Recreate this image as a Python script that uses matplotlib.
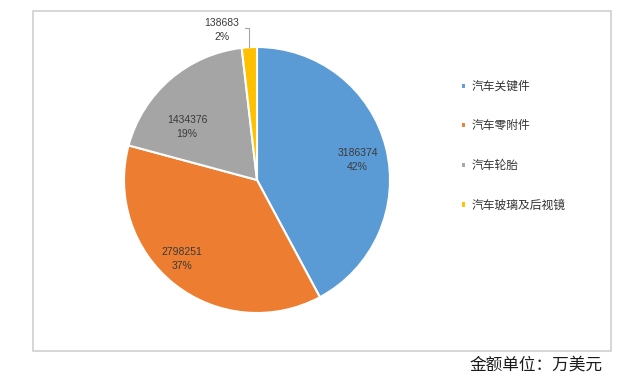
import numpy as np
import matplotlib
matplotlib.use('Agg')
import matplotlib.pyplot as plt
from matplotlib.patches import Rectangle

plt.rcParams['font.family'] = ['Noto Sans CJK SC', 'DejaVu Sans']

# data (万美元)
categories = ['汽车关键件', '汽车零附件', '汽车轮胎', '汽车玻璃及后视镜']
values = [3186374, 2798251, 1434376, 138683]
pct_labels = ['42%', '37%', '19%', '2%']
colors = ['#5B9BD5', '#ED7D31', '#A5A5A5', '#FFC000']

fig = plt.figure(figsize=(6.4, 3.78), dpi=100)
fig.patch.set_facecolor('white')

# outer chart border
fig.add_artist(Rectangle((33 / 640, 1 - 351 / 378), (611 - 33) / 640, (351 - 11) / 378,
                         transform=fig.transFigure, fill=False, edgecolor='#CFCFCF', lw=1.2))

# pie axes: centre ~ (257,180) px, radius ~133 px
r_px = 133
ax = fig.add_axes([(257 - r_px) / 640, (378 - 180 - r_px) / 378, 2 * r_px / 640, 2 * r_px / 378])
wedges, _ = ax.pie(values, colors=colors, startangle=90, counterclock=False,
                   wedgeprops=dict(edgecolor='white', linewidth=1.5))
ax.set_xlim(-1, 1)
ax.set_ylim(-1, 1)
ax.set_aspect('equal')
ax.axis('off')

# data labels (Excel-like best fit placement)
label_dist = [0.77, 0.82, 0.66, 1.16]
angle_shift = [-3, -5, 12, 10]
for i, w in enumerate(wedges):
    mid = (w.theta1 + w.theta2) / 2
    a = np.deg2rad(mid + angle_shift[i])
    x, y = label_dist[i] * np.cos(a), label_dist[i] * np.sin(a)
    ax.text(x, y, f'{values[i]}\n{pct_labels[i]}', ha='center', va='center',
            fontsize=7.5, color='#3A3A3A', linespacing=1.5,
            family=['Liberation Sans', 'DejaVu Sans'], clip_on=False)

# leader line for the small slice
w = wedges[3]
xm = np.cos(np.deg2rad((w.theta1 + w.theta2) / 2))
ax.plot([xm, xm, xm - 0.03], [1.0, 1.14, 1.14], color='#A6A6A6', lw=0.8, clip_on=False)

# legend
fig.legend(wedges, categories, loc='upper left', bbox_to_anchor=(455 / 640, 1 - 74 / 378),
           frameon=False, fontsize=8.5, handlelength=0.45, handleheight=0.45,
           handletextpad=0.45, labelspacing=2.25, borderpad=0, labelcolor='#333333')

fig.text(603 / 640, 1 - 365 / 378, '金额单位：万美元', ha='right', va='center',
         fontsize=12, color='#1A1A1A')

fig.savefig('out.png', dpi=100, facecolor='white')
